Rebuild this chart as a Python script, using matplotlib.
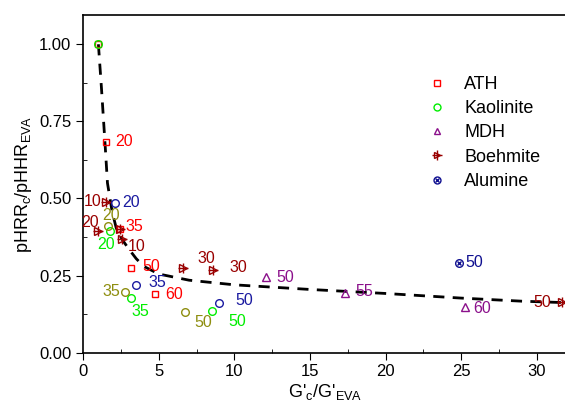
import numpy as np
import matplotlib
matplotlib.use('Agg')
from matplotlib import pyplot as plt
from matplotlib.lines import Line2D
from matplotlib.ticker import MultipleLocator

plt.rcParams['font.family'] = ['Liberation Sans', 'DejaVu Sans']
plt.rcParams['mathtext.default'] = 'regular'

# data (x = G'c/G'EVA, y = pHRRc/pHRR_EVA)
athX = [1.0, 1.50, 2.44, 3.14, 4.77]
athY = [1.0, 0.684, 0.402, 0.273, 0.189]
athLab = ['', '20', '35', '50', '60']

kaoX = [1.0, 1.77, 3.16, 8.52]
kaoY = [1.0, 0.394, 0.177, 0.135]
kaoLab = ['', '20', '35', '50']

mdhX = [12.09, 17.34, 25.26]
mdhY = [0.244, 0.192, 0.149]
mdhLab = ['50', '55', '60']

boeX = [1.50, 0.99, 2.44, 2.54, 6.62, 8.60, 31.7]
boeY = [0.488, 0.394, 0.402, 0.367, 0.276, 0.267, 0.164]
boeLab = ['10', '20', '', '10', '30', '30', '50']

aluX = [24.84]
aluY = [0.291]
aluLab = ['50']

# open navy circles (not in legend)
navX = [2.10, 3.49, 9.00]
navY = [0.485, 0.221, 0.160]
navLab = ['20', '35', '50']

# olive circles (not in legend)
oliX = [1.61, 2.76, 6.75]
oliY = [0.410, 0.197, 0.132]
oliLab = ['20', '35', '50']

# dashed trend line
fitX = [1.0, 1.2, 1.45, 1.6, 1.9, 2.2, 2.6, 3.0, 3.5, 4.0, 5.0, 7.0, 10, 15, 20, 25, 29, 32]
fitY = [1.0, 0.86, 0.67, 0.55, 0.46, 0.40, 0.365, 0.337, 0.305, 0.28, 0.255, 0.235, 0.220, 0.205, 0.192, 0.177, 0.167, 0.162]

# label offsets (pixels) for each point
athOff = [(0, 0), (18, 0), (14, 2), (21, 2), (19, 0)]
kaoOff = [(0, 0), (-4, -13), (9, -13), (25, -10)]
mdhOff = [(19, 0), (19, 2), (17, -2)]
boeOff = [(-13, 1), (-8, 9), (0, 0), (15, -7), (23, 9), (25, 3), (-20, 0)]
aluOff = [(16, 0)]
navOff = [(16, 1), (21, 2), (25, 3)]
oliOff = [(3, 11), (-14, 0), (18, -11)]

cATH = '#ff0000'
cKAO = '#00ee00'
cMDH = '#8b108b'
cBOE = '#990000'
cALU = '#101090'
cNAV = '#1a1aa0'
cOLI = '#8e8e10'

fig = plt.figure(figsize=(5.65, 4.09), dpi=100)
ax = fig.add_axes([0.1474, 0.1377, 0.856, 0.8257])

ax.plot(fitX, fitY, '--', color='black', lw=2, dashes=(4, 3), zorder=1)

ms = 5.5
ax.plot(athX, athY, 's', ms=ms - 0.5, mfc='none', mec=cATH, mew=1.0, ls='none', zorder=2)
ax.plot(kaoX, kaoY, 'o', ms=ms, mfc='none', mec=cKAO, mew=1.0, ls='none', zorder=3)
ax.plot(mdhX, mdhY, '^', ms=ms, mfc='none', mec=cMDH, mew=1.0, ls='none', zorder=3)
ax.plot(boeX, boeY, '>', ms=ms, mfc='none', mec=cBOE, mew=1.0, ls='none', zorder=3)
ax.plot(boeX, boeY, '+', ms=ms + 2, mec=cBOE, mew=1.0, ls='none', zorder=3)
ax.plot(aluX, aluY, 'o', ms=ms, mfc='none', mec=cALU, mew=1.0, ls='none', zorder=3)
ax.plot(aluX, aluY, 'x', ms=ms - 2, mec=cALU, mew=1.0, ls='none', zorder=3)
ax.plot(navX, navY, 'o', ms=ms, mfc='none', mec=cNAV, mew=1.0, ls='none', zorder=3)
ax.plot(oliX, oliY, 'o', ms=ms, mfc='none', mec=cOLI, mew=1.0, ls='none', zorder=3)

def labels(xs, ys, labs, offs, col):
    for x, y, t, o in zip(xs, ys, labs, offs):
        if t:
            ax.annotate(t, (x, y), xytext=o, textcoords='offset pixels',
                        ha='center', va='center', color=col, fontsize=11.5, zorder=4)

labels(athX, athY, athLab, athOff, cATH)
labels(kaoX, kaoY, kaoLab, kaoOff, cKAO)
labels(mdhX, mdhY, mdhLab, mdhOff, cMDH)
labels(boeX, boeY, boeLab, boeOff, cBOE)
labels(aluX, aluY, aluLab, aluOff, cALU)
labels(navX, navY, navLab, navOff, cNAV)
labels(oliX, oliY, oliLab, oliOff, cOLI)

ax.set_xlim(0, 32)
ax.set_ylim(0, 1.095)
ax.xaxis.set_major_locator(MultipleLocator(5))
ax.xaxis.set_minor_locator(MultipleLocator(2.5))
ax.yaxis.set_major_locator(MultipleLocator(0.25))
ax.yaxis.set_minor_locator(MultipleLocator(0.125))
ax.yaxis.set_major_formatter(plt.FormatStrFormatter('%.2f'))
ax.tick_params(which='major', direction='out', length=5, labelsize=12, top=False, right=False)
ax.tick_params(which='minor', direction='in', length=3, top=False, right=False)
ax.spines['right'].set_visible(False)
for s in ['left', 'bottom', 'top']:
    ax.spines[s].set_linewidth(1.2)

ax.set_xlabel("G'$_c$/G'$_{EVA}$", fontsize=13, labelpad=2)
ax.set_ylabel("pHRR$_c$/pHHR$_{EVA}$", fontsize=13, labelpad=4)

lms = 5
hATH = Line2D([], [], marker='s', ms=lms - 0.5, mfc='none', mec=cATH, ls='none')
hKAO = Line2D([], [], marker='o', ms=lms, mfc='none', mec=cKAO, ls='none')
hMDH = Line2D([], [], marker='^', ms=lms, mfc='none', mec=cMDH, ls='none')
hBOE = (Line2D([], [], marker='>', ms=lms, mfc='none', mec=cBOE, ls='none'),
        Line2D([], [], marker='+', ms=lms + 2, mec=cBOE, ls='none'))
hALU = (Line2D([], [], marker='o', ms=lms, mfc='none', mec=cALU, ls='none'),
        Line2D([], [], marker='x', ms=lms - 2, mec=cALU, ls='none'))
fig.legend([hATH, hKAO, hMDH, hBOE, hALU], ['ATH', 'Kaolinite', 'MDH', 'Boehmite', 'Alumine'],
           loc='upper left', bbox_to_anchor=(428 / 565, 1 - 76 / 409), frameon=False,
           fontsize=13, handlelength=1.0, handletextpad=1.0, labelspacing=0.40,
           borderpad=0, borderaxespad=0)

fig.savefig('out.png', dpi=100)
